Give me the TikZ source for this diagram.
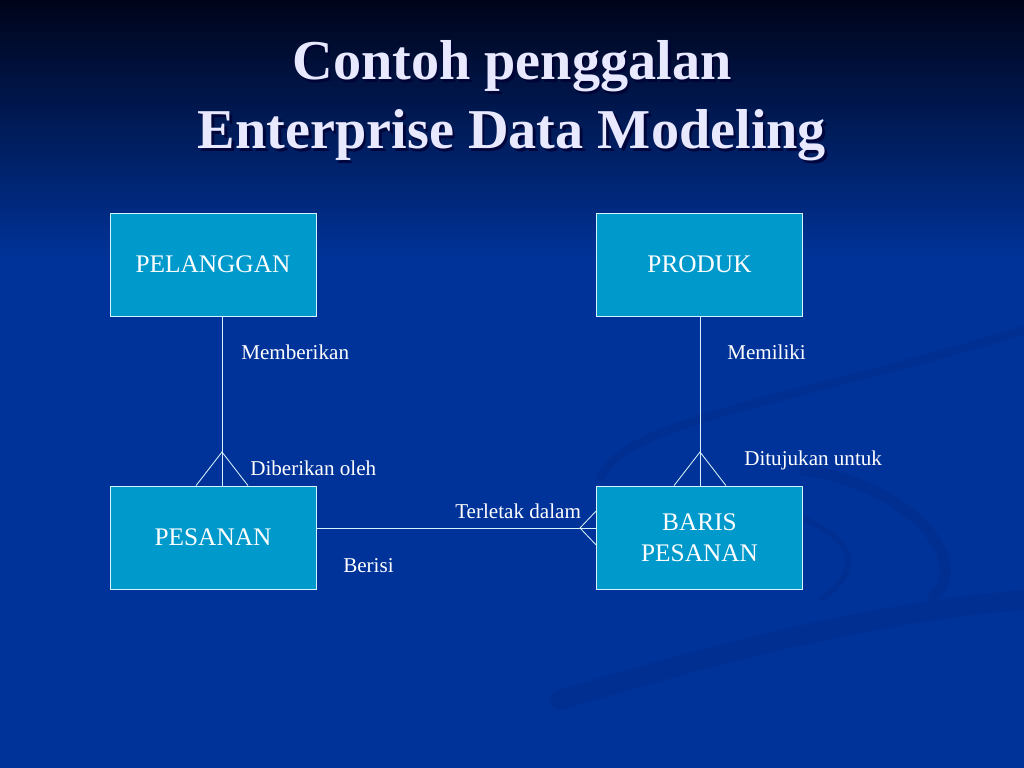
\documentclass[tikz,border=0pt]{standalone}
\usepackage{fontspec}
\setmainfont{Liberation Serif}
\usetikzlibrary{positioning}
\definecolor{slideblue}{RGB}{0,51,153}
\definecolor{slidetop}{RGB}{0,4,26}
\definecolor{swirl}{RGB}{0,47,145}
\definecolor{boxcyan}{RGB}{0,153,204}
\definecolor{titlewhite}{RGB}{232,232,255}
\begin{document}
\begin{tikzpicture}[x=0.025cm,y=-0.025cm,
            entity/.style={draw=white!85!cyan, line width=0.5pt, fill=boxcyan,
                minimum width=5.15cm, minimum height=2.575cm, inner sep=0pt,
                align=center, text=white, font=\fontsize{18}{22}\selectfont},
            rellabel/.style={anchor=west, inner sep=0pt, text=white,
                font=\fontsize{15}{18}\selectfont},
            rel/.style={draw=white!85!cyan, line width=0.6pt},
            titletext/.style={anchor=base, text=titlewhite, inner sep=0pt,
                font=\fontsize{40}{46}\selectfont\bfseries},
        ]
        % background
        \useasboundingbox (0,0) rectangle (1024,768);
        \fill[slideblue] (0,0) rectangle (1024,768);
        \shade[top color=slidetop, bottom color=slideblue] (0,0) rectangle (1024,260);
        %\fill[swirl] ...
        \draw[swirl, line width=14pt, line cap=round] (560,700) .. controls (760,640) and (900,610) .. (1024,600);
        \draw[swirl, line width=6pt] (600,480) .. controls (620,420) and (800,400) .. (1024,330);
        \draw[swirl, line width=8pt] (800,470) .. controls (900,480) and (980,560) .. (930,600);
        \draw[swirl, line width=4pt] (740,500) .. controls (840,520) and (880,560) .. (820,600);
        % title
        \node[titletext, text=black!80!blue, opacity=0.8] at (514.5,82.5) {Contoh penggalan};
        \node[titletext, text=black!80!blue, opacity=0.8] at (514.5,151.5) {Enterprise Data Modeling};
        \node[titletext] (title1) at (512,80) {Contoh penggalan};
        \node[titletext] (title2) at (512,149) {Enterprise Data Modeling};
        % entities
        \node[entity] (pelanggan) at (213,264.5) {PELANGGAN};
        \node[entity] (produk) at (699.5,264.5) {PRODUK};
        \node[entity] (pesanan) at (213,537.5) {PESANAN};
        \node[entity] (baris) at (699.5,537.5) {BARIS\\PESANAN};
        % crow's feet
        \coordinate (footPes) at (222,452);
        \coordinate (footBar) at (700,452);
        \coordinate (footLeft) at (580,528);
        \draw[rel] (pelanggan.south -| footPes) -- (pesanan.north -| footPes);
        \draw[rel] (pesanan.north -| 196,0) -- (footPes) -- (pesanan.north -| 248,0);
        \draw[rel] (produk.south -| footBar) -- (baris.north -| footBar);
        \draw[rel] (baris.north -| 674,0) -- (footBar) -- (baris.north -| 726,0);
        \draw[rel] (pesanan.east |- footLeft) -- (baris.west |- footLeft);
        \draw[rel] (baris.west |- 0,511) -- (footLeft) -- (baris.west |- 0,545);
        % labels
        \node[rellabel] (memberikan) at (241,352) {Memberikan};
        \node[rellabel] (diberikan) at (250,468) {Diberikan oleh};
        \node[rellabel] (memiliki) at (727,352) {Memiliki};
        \node[rellabel] (ditujukan) at (744,460) {Ditujukan untuk};
        \node[rellabel] (terletak) at (455,511) {Terletak dalam};
        \node[rellabel] (berisi) at (343,566) {Berisi};
    \end{tikzpicture}
\end{document}
